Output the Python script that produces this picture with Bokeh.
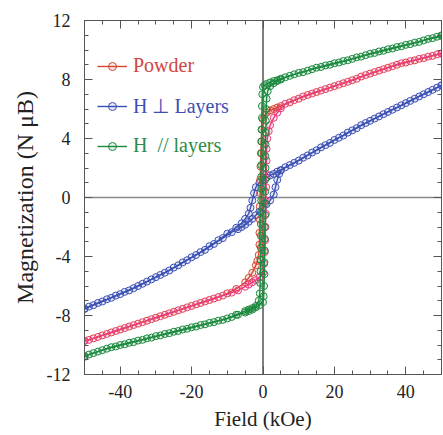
from bokeh.plotting import figure
from bokeh.models import (Span, LinearAxis, SingleIntervalTicker, Legend, LegendItem, Range1d)
from bokeh.embed import file_html
from bokeh.resources import INLINE

# ---------------- data (Field in kOe, Magnetization in N muB) ----------------
# H perpendicular to layers (blue)
blue_desc_h = [50, 47.5, 45, 42.5, 40, 37.5, 35, 32.5, 30, 27.5, 25, 22.5, 20, 17.5, 15, 12.5, 10, 7.5,
               5, 4, 3, 2, 1, 0, -1, -2, -2.5, -3, -3.5, -4, -5, -6, -7.5,
               -10, -12.5, -15, -17.5, -20, -22.5, -25, -27.5, -30, -32.5, -35, -37.5, -40, -42.5, -45, -47.5, -50]
blue_desc_m = [7.6, 7.3, 7.0, 6.7, 6.4, 6.1, 5.8, 5.5, 5.2, 4.9, 4.55, 4.2, 3.9, 3.55, 3.2, 2.85, 2.5, 2.2,
               1.85, 1.75, 1.6, 1.5, 1.35, 1.2, 1.0, 0.7, 0.3, -0.2, -0.7, -1.1, -1.45, -1.75, -2.05,
               -2.45, -2.9, -3.3, -3.7, -4.05, -4.4, -4.75, -5.1, -5.4, -5.7, -6.0, -6.3, -6.55, -6.8, -7.05, -7.3, -7.55]
blue_asc_h = [-50, -48.75, -46.25, -43.75, -41.25, -38.75, -36.25, -33.75, -31.25, -28.75, -26.25, -23.75,
              -21.25, -18.75, -16.25, -13.75, -11.25, -8.75,
              -7, -6, -5, -4, -3, -2, -1, 0, 1, 2, 3, 3.5, 4, 4.5, 5,
              6.25, 8.75, 11.25, 13.75, 16.25, 18.75, 21.25, 23.75, 26.25, 28.75, 31.25, 33.75, 36.25, 38.75,
              41.25, 43.75, 46.25, 48.75, 50]
blue_asc_m = [-7.55, -7.4, -7.15, -6.9, -6.65, -6.4, -6.15, -5.85, -5.55, -5.25, -4.95, -4.6,
              -4.25, -3.9, -3.55, -3.15, -2.75, -2.35,
              -2.15, -2.0, -1.85, -1.65, -1.45, -1.2, -0.95, -0.7, -0.45, -0.2, 0.2, 0.7, 1.2, 1.6, 1.85,
              2.05, 2.35, 2.7, 3.05, 3.4, 3.7, 4.05, 4.4, 4.7, 5.05, 5.35, 5.65, 5.95, 6.25,
              6.55, 6.85, 7.15, 7.45, 7.6]

# Powder: descending sweep (red) and ascending sweep (pink)
powder_desc_h = [50, 47.5, 45, 42.5, 40, 37.5, 35, 32.5, 30, 27.5, 25, 22.5, 20, 17.5, 15, 12.5, 10, 7.5,
                 5, 4, 3, 2, 1, 0.5, 0, -0.3, -0.5, -0.6, -0.7, -0.8, -0.8, -0.9, -0.9, -1.0, -1.0, -1.2, -1.6,
                 -2, -3, -4, -5,
                 -7.5, -10, -12.5, -15, -17.5, -20, -22.5, -25, -27.5, -30, -32.5, -35, -37.5, -40, -42.5,
                 -45, -47.5, -50]
powder_desc_m = [9.75, 9.6, 9.45, 9.3, 9.15, 9.0, 8.8, 8.6, 8.4, 8.2, 7.95, 7.75, 7.55, 7.35, 7.15, 6.95, 6.7, 6.45,
                 6.2, 6.1, 6.0, 5.9, 5.75, 5.6, 5.3, 4.6, 3.8, 3.0, 2.1, 1.2, 0.3, -0.6, -1.5, -2.4, -3.2, -3.9, -4.3,
                 -4.6, -5.1, -5.45, -5.75,
                 -6.2, -6.5, -6.75, -6.95, -7.15, -7.35, -7.55, -7.75, -7.95, -8.15, -8.35, -8.55, -8.75, -8.95, -9.15,
                 -9.35, -9.55, -9.72]
powder_asc_h = [-50, -48.75, -46.25, -43.75, -41.25, -38.75, -36.25, -33.75, -31.25, -28.75, -26.25, -23.75,
                -21.25, -18.75, -16.25, -13.75, -11.25, -8.75,
                -7, -5, -4, -3, -2, -1, 0, 0.3, 0.5, 0.6, 0.7, 0.8, 0.8, 0.9, 0.9, 1.0, 1.0, 1.2, 1.6, 2, 3, 4, 5,
                6.25, 8.75, 11.25, 13.75, 16.25, 18.75, 21.25, 23.75, 26.25, 28.75, 31.25, 33.75, 36.25, 38.75,
                41.25, 43.75, 46.25, 48.75, 50]
powder_asc_m = [-9.72, -9.65, -9.45, -9.25, -9.05, -8.85, -8.65, -8.45, -8.25, -8.05, -7.85, -7.65,
                -7.45, -7.25, -7.05, -6.85, -6.65, -6.45,
                -6.3, -6.05, -5.9, -5.75, -5.6, -5.4, -5.1, -4.5, -3.7, -2.9, -2.0, -1.1, -0.2, 0.7, 1.6, 2.5, 3.3,
                4.0, 4.5, 4.9, 5.4, 5.75, 6.05,
                6.35, 6.6, 6.85, 7.05, 7.25, 7.45, 7.65, 7.85, 8.05, 8.3, 8.5, 8.7, 8.9, 9.1,
                9.25, 9.4, 9.55, 9.7, 9.77]

# H parallel to layers (green)
green_desc_h = [50, 47.5, 45, 42.5, 40, 37.5, 35, 32.5, 30, 27.5, 25, 22.5, 20, 17.5, 15, 12.5, 10, 7.5,
                5, 4, 3, 2, 1, 0.5, 0, -0.2, -0.3, -0.3, -0.4, -0.4, -0.4, -0.5, -0.5, -0.5, -0.5, -0.6, -0.6,
                -0.6, -0.6, -0.7, -0.7, -0.8, -0.9, -1.2, -2, -3, -4, -5,
                -7.5, -10, -12.5, -15, -17.5, -20, -22.5, -25, -27.5, -30, -32.5, -35, -37.5, -40, -42.5,
                -45, -47.5, -50]
green_desc_m = [10.95, 10.8, 10.65, 10.5, 10.35, 10.2, 10.05, 9.9, 9.75, 9.55, 9.4, 9.25, 9.1, 8.95, 8.8, 8.6, 8.45, 8.25,
                8.05, 7.95, 7.9, 7.8, 7.7, 7.6, 7.5, 7.0, 6.2, 5.4, 4.6, 3.8, 3.0, 2.2, 1.4, 0.6, -0.2, -1.0, -1.8,
                -2.6, -3.4, -4.2, -5.0, -5.8, -6.5, -7.0, -7.35, -7.5, -7.6, -7.7,
                -7.95, -8.2, -8.35, -8.5, -8.65, -8.8, -8.95, -9.1, -9.25, -9.4, -9.55, -9.7, -9.85, -10.0, -10.15,
                -10.35, -10.55, -10.75]
green_asc_h = [-50, -48.75, -46.25, -43.75, -41.25, -38.75, -36.25, -33.75, -31.25, -28.75, -26.25, -23.75,
               -21.25, -18.75, -16.25, -13.75, -11.25, -8.75,
               -7, -5, -4, -3, -2, -1, 0, 0.2, 0.3, 0.4, 0.4, 0.5, 0.5, 0.5, 0.6, 0.6, 0.6, 0.6, 0.7, 0.7, 0.7,
               0.8, 0.8, 0.9, 1.0, 1.3, 2, 3, 4, 5,
               6.25, 8.75, 11.25, 13.75, 16.25, 18.75, 21.25, 23.75, 26.25, 28.75, 31.25, 33.75, 36.25, 38.75,
               41.25, 43.75, 46.25, 48.75, 50]
green_asc_m = [-10.8, -10.65, -10.45, -10.25, -10.1, -9.95, -9.8, -9.65, -9.5, -9.35, -9.2, -9.05,
               -8.9, -8.75, -8.6, -8.45, -8.3, -8.1,
               -7.95, -7.8, -7.7, -7.6, -7.45, -7.3, -7.1, -6.7, -6.0, -5.2, -4.4, -3.6, -2.8, -2.0, -1.2, -0.4, 0.4,
               1.2, 2.0, 2.8, 3.6, 4.4, 5.2, 6.0, 6.7, 7.2, 7.55, 7.75, 7.9, 8.0,
               8.15, 8.35, 8.5, 8.7, 8.85, 9.0, 9.15, 9.3, 9.5, 9.65, 9.8, 9.95, 10.1, 10.25,
               10.4, 10.55, 10.75, 10.9, 11.0]

x_tick_labels = {-40: "-40", -20: "-20", 0: "0", 20: "20", 40: "40"}
y_tick_labels = {-12: "-12", -8: "-8", -4: "-4", 0: "0", 4: "4", 8: "8", 12: "12"}

legend_labels = ["Powder", "H \u22a5 Layers", "H  // layers"]
y_label = "Magnetization (N \u03bcB)"
x_label = "Field (kOe)"

BLUE = "#3a4fb4"
GREEN = "#1b8a3e"
PINK = "#ec3a7e"
RED = "#d8452f"
SERIF = "Liberation Serif"
TXT = "#222222"

# ---------------- figure ----------------
p = figure(width=443, height=435, x_range=Range1d(-50, 50), y_range=Range1d(-12, 12),
           output_backend="svg", toolbar_location=None,
           min_border_left=84, min_border_right=2, min_border_top=20, min_border_bottom=61)
p.xgrid.visible = False
p.ygrid.visible = False
p.outline_line_color = "#555555"
p.outline_line_width = 1
p.background_fill_color = "white"
p.border_fill_color = "white"

p.add_layout(Span(location=0, dimension="height", line_color="#555555", line_width=1.5, level="underlay"))
p.add_layout(Span(location=0, dimension="width", line_color="#8a8a8a", line_width=1.5, level="underlay"))


def style_axis(ax, ticker, show_labels, overrides=None):
    ax.ticker = ticker
    ax.axis_line_color = "#555555"
    ax.axis_line_width = 1
    ax.major_tick_in = 8
    ax.major_tick_out = 0
    ax.minor_tick_in = 4
    ax.minor_tick_out = 0
    ax.major_tick_line_color = "#555555"
    ax.minor_tick_line_color = "#555555"
    ax.major_label_text_font = SERIF
    ax.major_label_text_color = TXT
    if show_labels:
        ax.major_label_text_font_size = "18px"
        if overrides:
            ax.major_label_overrides = overrides
    else:
        ax.major_label_text_font_size = "0px"
        ax.major_label_standoff = 0


style_axis(p.xaxis[0], SingleIntervalTicker(interval=20, num_minor_ticks=4), True, x_tick_labels)
style_axis(p.yaxis[0], SingleIntervalTicker(interval=4, num_minor_ticks=4), True, y_tick_labels)
p.xaxis[0].major_label_standoff = 10
p.yaxis[0].major_label_standoff = 14
for ax, lab in ((p.xaxis[0], x_label), (p.yaxis[0], y_label)):
    ax.axis_label = lab
    ax.axis_label_text_font = SERIF
    ax.axis_label_text_font_style = "normal"
    ax.axis_label_text_color = TXT
p.xaxis[0].axis_label_text_font_size = "21px"
p.xaxis[0].axis_label_standoff = 6
p.yaxis[0].axis_label_text_font_size = "24px"
p.yaxis[0].axis_label_standoff = 6

top_ax = LinearAxis()
right_ax = LinearAxis()
style_axis(top_ax, SingleIntervalTicker(interval=20, num_minor_ticks=4), False)
style_axis(right_ax, SingleIntervalTicker(interval=4, num_minor_ticks=4), False)
p.add_layout(top_ax, "above")
p.add_layout(right_ax, "right")


def series(h, m, color):
    ln = p.line(h, m, line_color=color, line_width=1.4)
    sc = p.scatter(h, m, marker="circle", size=7, line_color=color, line_width=1,
                   fill_color=color, fill_alpha=0.12)
    return ln, sc


b1 = series(blue_desc_h, blue_desc_m, BLUE)
b2 = series(blue_asc_h, blue_asc_m, BLUE)
r1 = series(powder_desc_h, powder_desc_m, RED)
r2 = series(powder_asc_h, powder_asc_m, PINK)
g1 = series(green_desc_h, green_desc_m, GREEN)
g2 = series(green_asc_h, green_asc_m, GREEN)

leg_specs = [(legend_labels[0], list(r1), "#d2453e", 297),
             (legend_labels[1], list(b1), "#3d4fb5", 256),
             (legend_labels[2], list(g1), "#2a8c48", 217)]
for text, rends, tcol, ypos in leg_specs:
    lg = Legend(items=[LegendItem(label=text, renderers=rends)], location=(13, ypos),
                border_line_color=None, background_fill_alpha=0, padding=0, margin=0,
                glyph_width=30, glyph_height=20, label_standoff=6, label_height=20,
                label_text_font=SERIF, label_text_font_size="20px", label_text_color=tcol)
    p.add_layout(lg, "center")

open("out.html", "w").write(file_html(p, INLINE))
